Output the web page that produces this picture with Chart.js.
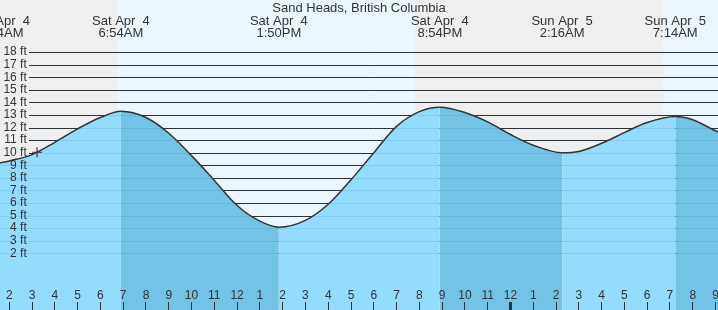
<!DOCTYPE html>
<html>
<head>
<meta charset="utf-8">
<script src="https://cdn.jsdelivr.net/npm/chart.js@4.4.1/dist/chart.umd.min.js"></script>
<style>
  html, body { margin: 0; padding: 0; background: #fff; }
  #wrap { width: 718px; height: 310px; }
</style>
</head>
<body>
<div id="wrap"><canvas id="tide" width="718" height="310"></canvas></div>
<script>
// Times are hours counted from Sat Apr 4, 00:00 local.
const tideHours = [1.5, 2, 3, 4, 5, 6, 6.9, 8, 9, 10, 11, 12, 13, 13.833, 15, 16, 17, 18, 19, 20, 20.9,
  22, 23, 24, 25, 26.267, 27, 28, 29, 30, 31.233, 32, 33, 33.2];
const tideFeet = [9.15, 9.35, 9.85, 10.83, 11.9, 12.8, 13.3, 12.8, 11.55, 9.77, 7.8, 5.8, 4.56, 4.08, 4.62, 5.9, 7.85, 10.0, 12.1, 13.27, 13.62,
  13.2, 12.45, 11.45, 10.6, 10.0, 10.1, 10.75, 11.6, 12.4, 12.88, 12.62, 11.75, 11.6];

const extremeHours = [1.64, 6.9, 13.833, 20.9, 26.267, 31.233];
const extremeDays = ['Sat Apr  4', 'Sat Apr  4', 'Sat Apr  4', 'Sat Apr  4', 'Sun Apr  5', 'Sun Apr  5'];
const extremeTimes = ['1:34AM', '6:54AM', '1:50PM', '8:54PM', '2:16AM', '7:14AM'];

const daylightStart = [6.73, 30.70];
const daylightEnd = [19.81, 34];

const nowHour = [3.22];
const nowFeet = [10.04];

const yTicks = [2, 3, 4, 5, 6, 7, 8, 9, 10, 11, 12, 13, 14, 15, 16, 17, 18];
const xTicks = [2, 3, 4, 5, 6, 7, 8, 9, 10, 11, 12, 13, 14, 15, 16, 17, 18, 19, 20, 21, 22, 23, 24,
  25, 26, 27, 28, 29, 30, 31, 32, 33];

const TITLE = 'Sand Heads, British Columbia';

const NIGHT = '#efefef', DAY = '#ebf6ff', RISE = '#94dcfe', FALL = '#73c3e7', INK = '#333333';
const FONT = '"Liberation Sans", Arial, sans-serif';

Chart.defaults.font.family = FONT;

// axes sit inside the plot, so they take no room of their own
const zeroFit = scale => {
  if (scale.isHorizontal()) scale.height = 0; else scale.width = 0;
  scale.paddingLeft = scale.paddingRight = scale.paddingTop = scale.paddingBottom = 0;
};

const tidePaint = {
  id: 'tidePaint',
  beforeDraw(chart) {
    const { ctx, width, height, scales: { x } } = chart;
    ctx.save();
    ctx.fillStyle = NIGHT;
    ctx.fillRect(0, 0, width, height);
    ctx.fillStyle = DAY;
    daylightStart.forEach((s, i) => {
      const x0 = x.getPixelForValue(s), x1 = x.getPixelForValue(daylightEnd[i]);
      ctx.fillRect(x0, 0, x1 - x0, height);
    });
    ctx.restore();
  },
  beforeDatasetsDraw(chart) {
    const { ctx, chartArea: a, scales: { y } } = chart;
    ctx.save();
    ctx.strokeStyle = '#2e2e2e';
    ctx.lineWidth = 1;
    yTicks.forEach(v => {
      const py = Math.round(y.getPixelForValue(v)) + 0.5;
      ctx.beginPath(); ctx.moveTo(29, py); ctx.lineTo(a.right, py); ctx.stroke();
    });
    ctx.restore();
  },
  afterDatasetsDraw(chart) {
    const { ctx, chartArea: a, scales: { y } } = chart;
    ctx.save();
    ctx.strokeStyle = 'rgba(20, 90, 140, 0.13)';
    ctx.lineWidth = 1;
    yTicks.forEach(v => {
      const py = Math.round(y.getPixelForValue(v)) + 0.5;
      const x0 = v < tideFeet[0] ? a.left : 29;
      ctx.beginPath(); ctx.moveTo(x0, py); ctx.lineTo(a.right, py); ctx.stroke();
    });
    ctx.restore();
  },
  afterDraw(chart) {
    const { ctx, width, scales: { x } } = chart;
    ctx.save();
    ctx.fillStyle = INK;
    ctx.font = '13px ' + FONT;
    ctx.textAlign = 'center';
    ctx.textBaseline = 'alphabetic';
    ctx.fillText(TITLE, width / 2, 11.5);
    extremeHours.forEach((h, i) => {
      const px = x.getPixelForValue(h);
      ctx.fillText(extremeDays[i], px, 24.5);
      ctx.fillText(extremeTimes[i], px, 36.5);
    });
    ctx.restore();
  },
};

new Chart(document.getElementById('tide'), {
  type: 'line',
  data: {
    datasets: [
      {
        data: nowHour.map((h, i) => ({ x: h, y: nowFeet[i] })),
        showLine: false, pointStyle: 'cross', pointRadius: 5, borderColor: INK, borderWidth: 1.2,
        order: 0,
      },
      {
        data: tideHours.map((h, i) => ({ x: h, y: tideFeet[i] })),
        borderColor: '#333', borderWidth: 1.5, pointRadius: 0,
        cubicInterpolationMode: 'monotone',
        fill: 'start', backgroundColor: RISE,
        segment: { backgroundColor: c => (c.p1.parsed.y < c.p0.parsed.y ? FALL : RISE) },
        order: 1,
      },
    ],
  },
  options: {
    responsive: false, animation: false, events: [],
    layout: { padding: 0, autoPadding: false },
    plugins: { legend: { display: false }, tooltip: { enabled: false } },
    scales: {
      x: {
        type: 'linear', position: 'bottom', min: 1.592, max: 33.11,
        afterBuildTicks: s => { s.ticks = xTicks.map(v => ({ value: v })); },
        afterFit: zeroFit,
        border: { display: false },
        grid: {
          z: 1, drawOnChartArea: false, drawTicks: true, tickLength: -8, tickColor: INK,
          tickWidth: c => (c.tick && c.tick.value % 24 === 0 ? 3 : 1),
        },
        ticks: {
          z: 1, mirror: true, autoSkip: false, maxRotation: 0, padding: 7, color: INK, font: { size: 12 },
          callback: v => (v % 12) || 12,
        },
      },
      y: {
        type: 'linear', position: 'left', min: -2.51, max: 22.15,
        afterBuildTicks: s => { s.ticks = yTicks.map(v => ({ value: v })); },
        afterFit: zeroFit,
        border: { display: false },
        grid: { display: false },
        ticks: {
          z: 1, autoSkip: false, mirror: true, crossAlign: 'far', padding: 3.4, color: INK, font: { size: 12 },
          callback: v => v + ' ft',
        },
      },
    },
  },
  plugins: [tidePaint],
});
</script>
</body>
</html>
